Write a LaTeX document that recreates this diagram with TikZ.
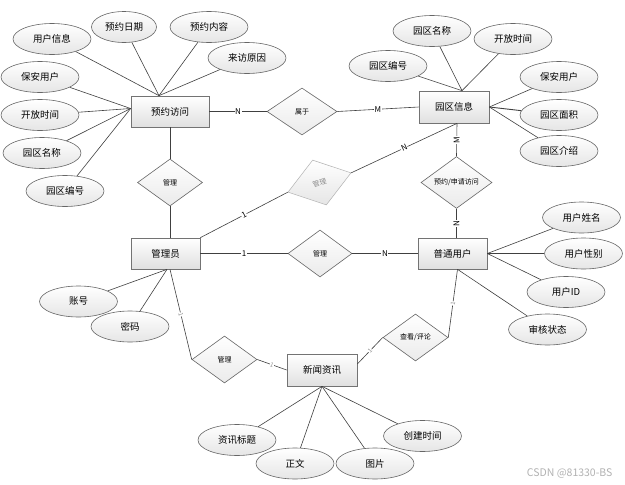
\documentclass[tikz,border=0pt]{standalone}
\usepackage{fontspec}
\setmainfont{Noto Sans CJK SC}
\usetikzlibrary{shapes.geometric,calc,shadows}
\begin{document}
\begin{tikzpicture}[x=1pt,y=-1pt,
  entity/.style={rectangle,draw=black!55,line width=0.7pt,top color=white,bottom color=black!12,
    minimum width=70pt,minimum height=31pt,inner sep=0pt,font=\fontsize{9.5}{10}\selectfont,
    drop shadow={opacity=0.25,shadow xshift=1pt,shadow yshift=-1pt}},
  attr/.style={ellipse,draw=black!60,line width=0.6pt,top color=white,bottom color=black!10,
    minimum width=78pt,minimum height=31pt,inner sep=0pt,font=\fontsize{9.5}{10}\selectfont},
  rel/.style={diamond,draw=black!60,line width=0.6pt,top color=white,bottom color=black!8,
    minimum width=65pt,minimum height=47pt,inner sep=0pt,font=\fontsize{7}{8}\selectfont},
  conn/.style={draw=black!75,line width=0.6pt},
  lbl/.style={fill=white,inner sep=0.6pt,font=\fontsize{8}{8}\selectfont},
  glbl/.style={fill=white,inner sep=0.4pt,text=black!45,font=\fontsize{6}{6}\selectfont}]
\useasboundingbox (0,0) rectangle (625,485);
\fill[white] (0,0) rectangle (625,485);

% ---- entities
\node[entity,minimum width=78pt] (yyfw) at (170,111.5) {预约访问};
\node[entity,minimum height=32pt] (yqxx) at (454,107) {园区信息};
\node[entity,minimum width=69pt] (ptyh) at (452.5,253.5) {普通用户};
\node[entity,minimum width=69pt] (gly) at (165.5,253.5) {管理员};
\node[entity,minimum height=32pt] (xwzx) at (322,370) {新闻资讯};

% ---- attributes of 预约访问
\node[attr] (yhxx) at (52,39) {用户信息};
\node[attr,minimum width=65pt] (yyrq) at (124,27) {预约日期};
\node[attr] (yynr) at (209,27) {预约内容};
\node[attr] (lfyy) at (247,58) {来访原因};
\node[attr] (bayh) at (40,77) {保安用户};
\node[attr] (kfsj) at (40,115) {开放时间};
\node[attr] (yqmc) at (42,153) {园区名称};
\node[attr] (yqbh) at (65,191) {园区编号};

% ---- attributes of 园区信息
\node[attr] (yqmc2) at (432,31) {园区名称};
\node[attr] (kfsj2) at (513,39) {开放时间};
\node[attr] (yqbh2) at (388,66) {园区编号};
\node[attr] (bayh2) at (559,77) {保安用户};
\node[attr] (yqmj) at (559,115) {园区面积};
\node[attr] (yqjs) at (559,151) {园区介绍};

% ---- attributes of 普通用户
\node[attr] (yhxm) at (581.5,217.5) {用户姓名};
\node[attr] (yhxb) at (583.5,253.5) {用户性别};
\node[attr] (yhid) at (566,292) {用户ID};
\node[attr] (shzt) at (547.5,329.5) {审核状态};

% ---- attributes of 管理员
\node[attr] (zh) at (78.5,301.5) {账号};
\node[attr] (mm) at (130,326.5) {密码};

% ---- attributes of 新闻资讯
\node[attr] (zxbt) at (237,440) {资讯标题};
\node[attr] (zw) at (295,463.5) {正文};
\node[attr] (tp) at (375,463.5) {图片};
\node[attr] (cjsj) at (422.5,436) {创建时间};

% ---- relationships
\node[rel,minimum width=70pt] (shuyu) at (302,111.5) {属于};
\node[rel,minimum width=71pt] (yysq) at (456.5,182.5) {预约/申请访问};
\node[rel] (gl1) at (170,182.5) {管理};
\node[rel,minimum width=64pt] (gl2) at (320,253.5) {管理};
\node[rel] (gl3) at (224.5,359.5) {管理};
\node[rel] (ckpl) at (415.5,337.5) {查看/评论};
\node[diamond,draw=black!30,line width=0.5pt,top color=white,bottom color=black!10,
  minimum width=66pt,minimum height=47pt,inner sep=0pt,rotate=17,text=black!45,
  font=\fontsize{7}{8}\selectfont] (glgray) at (319.5,182.5) {管理};

% ---- connectors: 预约访问
\coordinate (yyfwtop) at ($(yyfw.north)+(-11,0)$);
\coordinate (yyfwleft) at ($(yyfw.west)+(0,-3)$);
\draw[conn] (yhxx) -- (yyfwtop);
\draw[conn] (yyrq) -- (yyfwtop);
\draw[conn] (yynr) -- (yyfwtop);
\draw[conn] (lfyy) -- (yyfwtop);
\draw[conn] (bayh) -- (yyfwleft);
\draw[conn] (kfsj) -- (yyfwleft);
\draw[conn] (yqmc) -- (yyfwleft);
\draw[conn] (yqbh) -- (yyfwleft);
\draw[conn] (yyfw.east) -- node[lbl]{N} (shuyu.west);
\draw[conn] (shuyu.east) -- node[lbl]{M} (yqxx.west);
\draw[conn] (yyfw.south) -- (gl1.north);
\draw[conn] (gl1.south) -- ($(gly.north)+(4.5,0)$);

% ---- connectors: 园区信息
\coordinate (yqxxtop) at ($(yqxx.north)+(8,0)$);
\coordinate (yqxxbot) at ($(yqxx.south)+(3,0)$);
\draw[conn] (yqmc2) -- (yqxxtop);
\draw[conn] (kfsj2) -- (yqxxtop);
\draw[conn] (yqbh2) -- (yqxxtop);
\draw[conn] (bayh2) -- (yqxx.east);
\draw[conn,line width=0.9pt] (yqmj) -- (yqxx.east);
\draw[conn] (yqjs) -- (yqxx.east);
\draw[conn] (yqxxbot) -- node[lbl,rotate=90]{M} (yysq.north);
\draw[conn] (yysq.south) -- node[lbl,rotate=90]{N} ($(ptyh.north)+(4,0)$);
\draw[conn] (gly.north east) -- node[lbl,sloped]{1} (glgray.west);
\draw[conn] (glgray.east) -- node[lbl,sloped]{N} (yqxxbot);

% ---- connectors: 普通用户
\draw[conn] (yhxm) -- (ptyh.east);
\draw[conn] (yhxb) -- (ptyh.east);
\draw[conn] (yhid) -- (ptyh.east);
\draw[conn] (shzt) -- ($(ptyh.south)+(5,0)$);
\draw[conn] (gly.east) -- node[lbl]{1} (gl2.west);
\draw[conn] (gl2.east) -- node[lbl]{N} (ptyh.west);

% ---- connectors: 管理员
\draw[conn] (zh) -- ($(gly.south)+(1.5,0)$);
\draw[conn] (mm) -- ($(gly.south)+(1.5,0)$);
\draw[conn] ($(gly.south)+(4.5,0)$) -- node[glbl,sloped]{1} (gl3.west);
\draw[conn] (gl3.east) -- node[glbl,sloped]{1} (xwzx.west);

% ---- connectors: 新闻资讯
\draw[conn] ($(xwzx.east)+(0,-6)$) -- node[glbl,sloped]{1} (ckpl.west);
\draw[conn] (ckpl.east) -- node[glbl,sloped]{1} ($(ptyh.south)+(5,0)$);
\draw[conn] (zxbt) -- (xwzx.south);
\draw[conn] (zw) -- (xwzx.south);
\draw[conn] (tp) -- (xwzx.south);
\draw[conn] (cjsj) -- (xwzx.south);

% ---- watermark
\node[text=black!30,font=\fontsize{10.5}{11}\selectfont,anchor=east] (wm) at (616,473) {CSDN @81330-BS};
\end{tikzpicture}
\end{document}
